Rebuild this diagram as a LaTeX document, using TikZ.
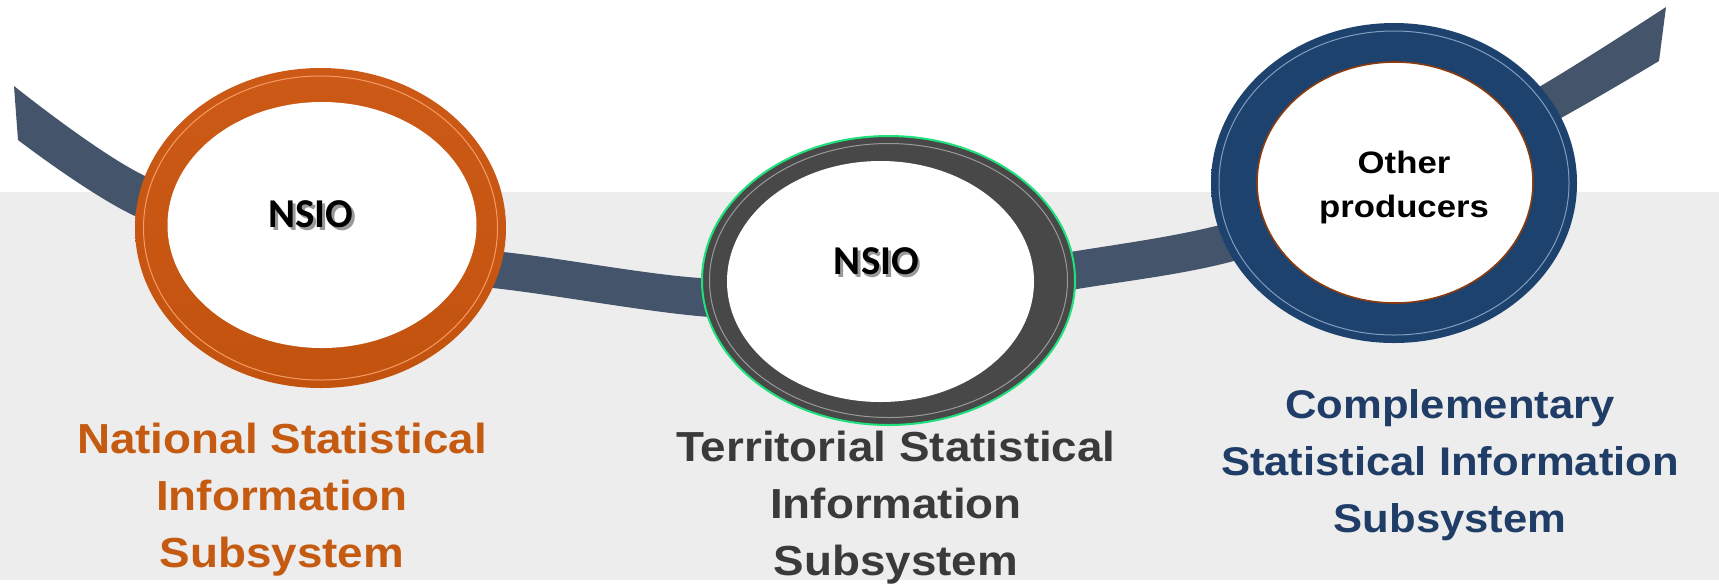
\documentclass[tikz,border=0pt]{standalone}
\usepackage{fontspec}
\setmainfont{Liberation Sans}
\newfontfamily\labfont[FakeStretch=1.09]{Liberation Sans}
\newfontfamily\othfont[FakeStretch=1.12]{Liberation Sans}
\newfontfamily\nsiofont{Carlito}
\usetikzlibrary{shapes.geometric}
\definecolor{bggrey}{HTML}{EDEDED}
\definecolor{bandcol}{HTML}{44546A}
\definecolor{orangetxt}{HTML}{C55A11}
\definecolor{greytxt}{HTML}{3A3A3A}
\definecolor{bluetxt}{HTML}{1F3D66}
\definecolor{orA}{HTML}{CC5A16}
\definecolor{orB}{HTML}{F36F21}
\definecolor{orC}{HTML}{C2530F}
\definecolor{gyA}{HTML}{3A3A3A}
\definecolor{gyB}{HTML}{484848}
\definecolor{glow}{HTML}{1FE07A}
\definecolor{blA}{HTML}{1D426E}
\definecolor{blB}{HTML}{2A5E96}
\definecolor{brownrim}{HTML}{8C3B0E}
\newcommand\shtext[1]{\leavevmode\rlap{\kern1.3pt\raisebox{-1.3pt}{\textcolor{black!40}{#1}}}#1}
\tikzset{
  ringshape/.style={ellipse, inner sep=0pt, outer sep=0pt},
  ridge/.style={ringshape, draw=#1, line width=0.5pt},
  hole/.style={ringshape, fill=white},
  inlabel/.style={inner sep=0pt, font=\nsiofont\bfseries\fontsize{20.5pt}{24pt}\selectfont, text=black},
  biglabel/.style={inner sep=0pt, align=center, anchor=base, font=\labfont\bfseries\fontsize{21pt}{28.5pt}\selectfont},
}
\begin{document}
\begin{tikzpicture}[x=0.5pt,y=-0.5pt]
\useasboundingbox (0,0) rectangle (1719,586);
\fill[white] (0,0) rectangle (1719,586);
\fill[bggrey] (0,192) rectangle (1719,580);
% ribbon
\fill[bandcol] (14,86) -- plot[smooth,tension=0.55] coordinates {(14,86) (143,175) (323,239) (503,252) (700,278) (885,279) (1070,252) (1220,225) (1380,174) (1539,87) (1666,7)}
  -- plot[smooth,tension=0.55] coordinates {(1659,61) (1561,118) (1395,207) (1230,262) (1077,289) (893,317) (710,317) (493,288) (315,275) (137,217) (18,140)} -- cycle;
% orange ring
\node[ringshape, minimum width=185.5pt, minimum height=160pt, top color=orA, middle color=orB, bottom color=orC] (orOut) at (320.5,228) {};
\node[ridge=orB!70!white, minimum width=177pt, minimum height=152pt] (orRidge) at (320.5,228) {};
\node[hole, minimum width=154.5pt, minimum height=123pt] (orIn) at (322,225) {};
\node[inlabel] (nsioA) at (311,215.5) {\shtext{NSIO}};
% grey ring
\node[ringshape, minimum width=186.5pt, minimum height=144.5pt, top color=gyB, middle color=gyA, bottom color=gyB, draw=glow, line width=1pt] (gyOut) at (888.5,280.5) {};
\node[ridge=gray!80, minimum width=179pt, minimum height=137pt] (gyRidge) at (888.5,280.5) {};
\node[hole, minimum width=153.5pt, minimum height=120.5pt] (gyIn) at (880.5,281.5) {};
\node[inlabel] (nsioB) at (876.5,262.5) {\shtext{NSIO}};
% blue ring
\node[ringshape, minimum width=183pt, minimum height=160pt, top color=blA, middle color=blB, bottom color=blA] (blOut) at (1394,183) {};
\node[ridge=blB!60!white, minimum width=175pt, minimum height=152pt] (blRidge) at (1394,183) {};
\node[hole, minimum width=138pt, minimum height=120.5pt, draw=brownrim, line width=0.8pt] (blIn) at (1395,182.5) {};
\node[inner sep=0pt, align=center, anchor=base, font=\othfont\bfseries\fontsize{15.5pt}{22pt}\selectfont] (other) at (1404,217) {Other\\producers};
% captions (anchor = baseline of last line)
\node[biglabel, text=orangetxt] (capA) at (282,567) {National Statistical\\Information\\Subsystem};
\node[biglabel, text=greytxt] (capB) at (896,575) {Territorial Statistical\\Information\\Subsystem};
\node[biglabel, text=bluetxt, font=\labfont\bfseries\fontsize{20pt}{28.5pt}\selectfont] (capC) at (1450,532.5) {Complementary\\Statistical Information\\Subsystem};
\end{tikzpicture}
\end{document}
